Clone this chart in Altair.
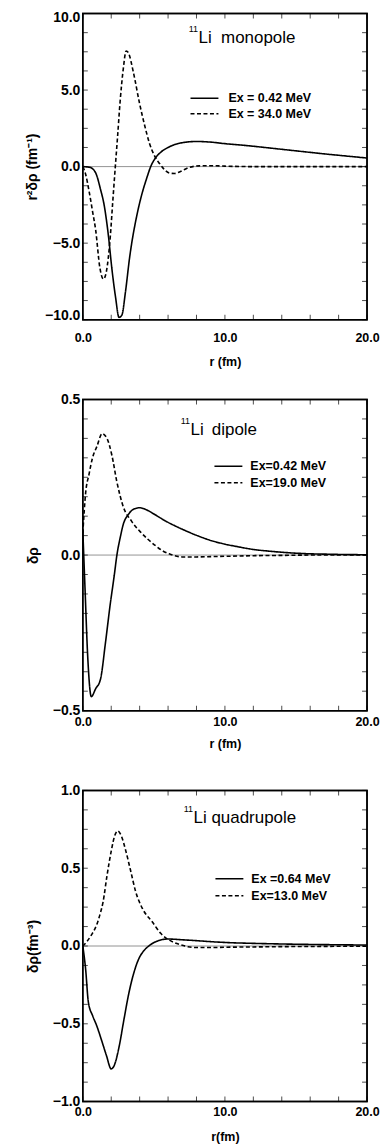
import altair as alt
import pandas as pd

BOLDFONT = "Liberation Sans, Arial, sans-serif"
REGULAR = "Liberation Sans, Arial, sans-serif"

# ---------------- panel 1 : monopole ----------------
mono_labels = ["Ex = 0.42 MeV", "Ex = 34.0 MeV"]
mono_r_solid = [0, 0.5, 0.9, 1.25, 1.5, 1.8, 2.05, 2.3, 2.55, 2.75, 3.0, 3.3, 3.8, 4.1, 4.5,
                4.8, 5.1, 5.5, 6.0, 6.5, 7.0, 7.5, 8.0, 9.0, 10, 11, 12, 13, 14, 15, 16, 17,
                18, 19, 20]
mono_y_solid = [0, -0.05, -0.4, -1.5, -2.5, -4.5, -6.7, -8.5, -9.85, -9.7, -8.2, -5.9, -3.2,
                -2.0, -0.75, 0.05, 0.55, 0.95, 1.25, 1.45, 1.56, 1.62, 1.64, 1.6, 1.5, 1.42,
                1.33, 1.23, 1.13, 1.03, 0.93, 0.83, 0.74, 0.65, 0.56]
mono_r_dash = [0, 0.2, 0.44, 0.7, 0.9, 1.2, 1.45, 1.65, 1.94, 2.1, 2.28, 2.45, 2.63, 2.85,
               3.05, 3.2, 3.55, 4.0, 4.35, 4.7, 5.05, 5.4, 5.75, 6.1, 6.45, 6.8, 7.5, 8.2,
               9.0, 10, 12, 14, 16, 18, 20]
mono_y_dash = [0, -0.5, -1.6, -3.0, -4.1, -6.6, -7.35, -6.9, -4.5, -2.4, -0.1, 2.0, 4.3, 6.4,
               7.55, 7.45, 6.2, 4.1, 2.7, 1.5, 0.7, 0.2, -0.2, -0.42, -0.45, -0.35, -0.05,
               0.05, 0.06, 0.03, 0, 0, 0, 0, 0]
mono_yticks = [-10.0, -5.0, 0.0, 5.0, 10.0]

# ---------------- panel 2 : dipole ----------------
dip_labels = ["Ex=0.42 MeV", "Ex=19.0 MeV"]
dip_r_solid = [0, 0.15, 0.35, 0.6, 0.9, 1.24, 1.6, 1.93, 2.2, 2.4, 2.65, 2.85, 3.2, 3.6, 4.0,
               4.5, 5.0, 5.84, 7.0, 8.14, 9.0, 10, 11, 12, 13, 14, 15, 16, 17, 18, 20]
dip_y_solid = [0.08, -0.1, -0.33, -0.455, -0.43, -0.40, -0.28, -0.158, -0.07, 0.0, 0.06,
               0.099, 0.13, 0.148, 0.152, 0.145, 0.132, 0.109, 0.083, 0.061, 0.047, 0.035,
               0.026, 0.018, 0.013, 0.009, 0.006, 0.004, 0.003, 0.002, 0.001]
dip_r_dash = [0, 0.2, 0.44, 0.67, 1.0, 1.36, 1.7, 2.05, 2.39, 2.85, 3.43, 4.0, 4.6, 5.15, 5.6,
              6.07, 7.0, 8, 9, 10, 11, 12, 14, 16, 18, 20]
dip_y_dash = [0.07, 0.2, 0.26, 0.31, 0.35, 0.39, 0.375, 0.32, 0.237, 0.155, 0.109, 0.077,
              0.05, 0.029, 0.014, 0.004, -0.006, -0.006, -0.005, -0.004, -0.003, -0.002,
              -0.001, 0, 0, 0]
dip_yticks = [-0.5, 0.0, 0.5]

# ---------------- panel 3 : quadrupole ----------------
quad_labels = ["Ex =0.64 MeV", "Ex=13.0 MeV"]
quad_r_solid = [0, 0.2, 0.39, 0.7, 0.97, 1.3, 1.65, 2.0, 2.2, 2.57, 2.9, 3.26, 3.6, 3.95, 4.3,
                4.64, 5.2, 6.0, 7.0, 7.9, 9, 10.2, 12, 14, 16, 18, 20]
quad_y_solid = [0, -0.15, -0.36, -0.45, -0.51, -0.6, -0.7, -0.79, -0.77, -0.64, -0.47, -0.295,
                -0.17, -0.08, -0.03, 0.0, 0.03, 0.045, 0.04, 0.035, 0.028, 0.022, 0.017,
                0.013, 0.01, 0.008, 0.006]
quad_r_dash = [0, 0.3, 0.6, 0.97, 1.2, 1.43, 1.7, 2.0, 2.25, 2.46, 2.7, 3.03, 3.35, 3.72, 4.2,
               4.87, 5.5, 6.25, 7.0, 7.4, 8, 9, 10, 12, 14, 16, 18, 20]
quad_y_dash = [0, 0.03, 0.07, 0.135, 0.2, 0.285, 0.45, 0.61, 0.71, 0.74, 0.71, 0.61, 0.49,
               0.35, 0.24, 0.157, 0.08, 0.03, 0.005, -0.005, -0.01, -0.01, -0.008, -0.006,
               -0.004, -0.003, -0.002, -0.002]
quad_yticks = [-1.0, -0.5, 0.0, 0.5, 1.0]

x_label_values = [0.0, 10.0, 20.0]
x_minor = [0, 2, 4, 6, 8, 10, 12, 14, 16, 18, 20]


def panel(r_s, y_s, r_d, y_d, labels, ydom, yvals, yminor, ytitle, ytitlepad, yflush,
          xtitle, name, height, legend_x, legend_y, legend_row, legend_off, title_x,
          title_y, xlabpad, xtitlepad):
    df = pd.concat([
        pd.DataFrame({"r": r_s, "v": y_s, "s": labels[0]}),
        pd.DataFrame({"r": r_d, "v": y_d, "s": labels[1]}),
    ])
    xenc = alt.X("r:Q", scale=alt.Scale(domain=[0, 20], nice=False, zero=False),
                 axis=alt.Axis(values=x_label_values, format=".1f", title=xtitle,
                               labelFlush=False, labelPadding=xlabpad,
                               titlePadding=xtitlepad))
    if yflush:
        yaxis = alt.Axis(values=yvals, format=".1f", title=ytitle, labelFlush=True,
                         labelFlushOffset=3, titlePadding=ytitlepad)
    else:
        yaxis = alt.Axis(values=yvals, format=".1f", title=ytitle, labelFlush=False,
                         titlePadding=ytitlepad)
    yenc = alt.Y("v:Q", scale=alt.Scale(domain=ydom, nice=False, zero=False), axis=yaxis)
    lines = alt.Chart(df).mark_line(color="black", strokeWidth=1.6,
                                    interpolate="monotone").encode(
        x=xenc, y=yenc,
        strokeDash=alt.StrokeDash(
            "s:N",
            scale=alt.Scale(domain=labels, range=[[1, 0], [4, 2.5]]),
            legend=alt.Legend(title=None, orient="none", legendX=legend_x,
                              legendY=legend_y, symbolType="M-1,0H3", symbolSize=196,
                              symbolStrokeWidth=1.5, symbolStrokeColor="black",
                              labelFont=BOLDFONT, labelFontSize=12.5,
                              labelFontWeight="bold", labelColor="black",
                              labelOffset=legend_off, rowPadding=legend_row, padding=0)),
    )
    one = pd.DataFrame({"a": [0]})
    frame = alt.Chart(one).mark_rect(filled=False, stroke="black", strokeWidth=1.5).encode(
        x=alt.datum(0), x2=alt.datum(20), y=alt.datum(ydom[0]), y2=alt.datum(ydom[1]))
    zero = alt.Chart(pd.DataFrame({"v": [0.0]})).mark_rule(
        color="#777777", strokeWidth=0.8).encode(y="v:Q")
    xt = pd.DataFrame({"r": x_minor})
    yt = pd.DataFrame({"v": yminor})
    tb = alt.Chart(xt).mark_tick(orient="vertical", size=5, thickness=1, color="black",
                                 yOffset=-2.5).encode(x="r:Q", y=alt.datum(ydom[0]))
    tt = alt.Chart(xt).mark_tick(orient="vertical", size=5, thickness=1, color="black",
                                 yOffset=2.5).encode(x="r:Q", y=alt.datum(ydom[1]))
    tl = alt.Chart(yt).mark_tick(orient="horizontal", size=5, thickness=1, color="black",
                                 xOffset=2.5).encode(y="v:Q", x=alt.datum(0))
    tr = alt.Chart(yt).mark_tick(orient="horizontal", size=5, thickness=1, color="black",
                                 xOffset=-2.5).encode(y="v:Q", x=alt.datum(20))
    t_main = alt.Chart(one).mark_text(align="left", baseline="alphabetic", font=REGULAR,
                                      fontSize=17, color="black").encode(
        x=alt.value(title_x), y=alt.value(title_y), text=alt.value(name))
    t_sup = alt.Chart(one).mark_text(align="right", baseline="alphabetic", font=REGULAR,
                                     fontSize=9, color="black").encode(
        x=alt.value(title_x - 0.5), y=alt.value(title_y - 11), text=alt.value("11"))
    return alt.layer(zero, lines, frame, tb, tt, tl, tr, t_main, t_sup).properties(
        width=285, height=height)


p1 = panel(mono_r_solid, mono_y_solid, mono_r_dash, mono_y_dash, mono_labels, [-10, 10],
           mono_yticks, [-10 + 1.25 * i for i in range(17)], "r²δρ (fm⁻¹)", 5, True,
           "r (fm)", "Li\u00a0 monopole", 307, 107, 77, 0.5, 23, 116, 30, 12, 11.5)
p2 = panel(dip_r_solid, dip_y_solid, dip_r_dash, dip_y_dash, dip_labels, [-0.5, 0.5],
           dip_yticks, [-0.5 + 0.0625 * i for i in range(17)], "δρ", 12, False, "r (fm)",
           "Li\u2009 dipole", 312, 131, 59, 1.5, 21, 108, 36, 5, 9.5)
p3 = panel(quad_r_solid, quad_y_solid, quad_r_dash, quad_y_dash, quad_labels, [-1, 1],
           quad_yticks, [-1 + 0.125 * i for i in range(17)], "δρ(fm⁻³)", 12, False, "r(fm)",
           "Li quadrupole", 312, 132, 80.5, 2, 21, 111, 33, 4, 12.5)

chart = alt.vconcat(p1, p2, p3, spacing=80, bounds="flush").resolve_scale(
    strokeDash="independent", x="independent", y="independent"
).properties(
    padding={"left": 16, "top": 0, "right": 0, "bottom": 0}
).configure_view(
    stroke="black", strokeWidth=1.5
).configure_axis(
    domain=False, ticks=False, grid=False,
    labelFont=BOLDFONT, labelFontSize=13, labelFontWeight="bold", labelColor="black",
    titleFont=BOLDFONT, titleFontSize=12.5, titleFontWeight="bold", titleColor="black",
).configure_axisX(labelFontSize=12.5).configure_axisY(labelPadding=3, labelFontSize=14,
                                                       titleFontSize=14)

chart.save("out.html", embed_options={"renderer": "svg", "actions": False})
